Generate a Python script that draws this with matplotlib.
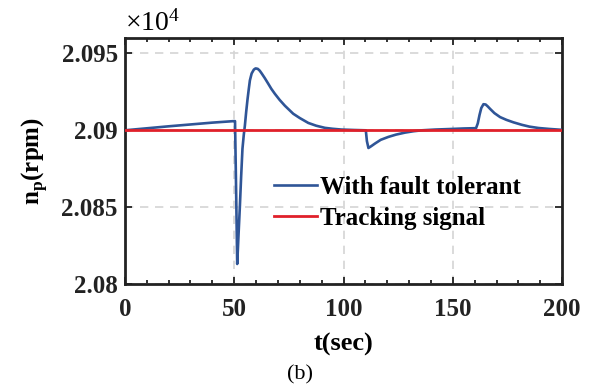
import matplotlib
matplotlib.use('Agg')
import matplotlib.pyplot as plt
from matplotlib.ticker import FuncFormatter, MultipleLocator

plt.rcParams['font.family'] = 'Liberation Serif'
plt.rcParams['mathtext.fontset'] = 'custom'
plt.rcParams['mathtext.rm'] = 'Liberation Serif'
plt.rcParams['mathtext.bf'] = 'Liberation Serif:bold'

# vrijeme [s] i brzina propelera [rpm] - sa tolerancijom kvara
t = [0, 10, 20, 30, 40, 50, 50.4, 50.8, 51.4, 52.0, 52.6, 53.2, 53.8, 54.4,
     54.9, 55.5, 56.1, 56.7, 57.2, 58.0, 59.0, 59.8, 60.8, 61.7, 62.6, 64.0,
     65.6, 67.0, 68.6, 70.8, 73.2, 77.0, 80.0, 83.9, 87.5, 91.5, 95.0, 99.0,
     105, 110.2, 110.7, 111.4, 112.5, 114.4, 117.0, 120.5, 124.0, 128.1,
     132.0, 135.8, 142, 148, 155, 160.6, 161.4, 162.2, 163.0, 164.0, 165.0,
     166.0, 167.0, 169.0, 171.6, 174.5, 177.7, 181.5, 185.0, 189.2, 194.0,
     198.0, 200]
n_ft = [20900, 20901.3, 20902.6, 20903.8, 20905.0, 20906, 20906, 20870,
        20813, 20832, 20850, 20870, 20888, 20897, 20903, 20912, 20920,
        20927, 20932.5, 20937, 20939.5, 20940.3, 20940, 20938.8, 20937,
        20934, 20930.3, 20927, 20923.8, 20919.8, 20916, 20910.8, 20908,
        20904.8, 20903, 20901.6, 20901, 20900.5, 20900.2, 20900, 20893,
        20888.5, 20889.5, 20891.4, 20893.8, 20895.7, 20897.2, 20898.5,
        20899.4, 20900, 20900.5, 20900.8, 20901.2, 20901.4, 20904.5,
        20910, 20914.5, 20917, 20916.8, 20915.5, 20914, 20911.2, 20908.6,
        20906.8, 20905.2, 20903.6, 20902.4, 20901.5, 20900.9, 20900.5,
        20900.3]

# referentni signal
t_ref = [0, 200]
n_ref = [20900, 20900]

fig = plt.figure(figsize=(6, 3.89), dpi=100)
ax = fig.add_axes([0.208, 0.270, 0.729, 0.632])

ax.plot(t, n_ft, c='#2f5597', lw=1.9, label='With fault tolerant', zorder=3)
ax.plot(t_ref, n_ref, c='#e0202a', lw=2.0, label='Tracking signal', zorder=4)

ax.set_xlim(0, 200)
ax.set_ylim(20800, 20960)
ax.set_xticks([0, 50, 100, 150, 200])
ax.xaxis.set_minor_locator(MultipleLocator(10))
ax.set_yticks([20800, 20850, 20900, 20950])
ax.yaxis.set_major_formatter(FuncFormatter(lambda v, p: '%g' % (v / 1e4)))

ax.grid(True, ls=(0, (5, 4)), c='#d4d4d4', lw=1.2)
ax.tick_params(which='both', direction='in', top=True, right=True,
               width=1.3, labelsize=18, pad=5, colors='#222222')
ax.tick_params(axis='x', which='major', pad=10)
ax.tick_params(which='major', length=5)
ax.tick_params(which='minor', length=3)
for lab in ax.get_xticklabels() + ax.get_yticklabels():
    lab.set_fontweight('bold')
for s in ax.spines.values():
    s.set_linewidth(2.0)
    s.set_color('#222222')

ax.set_xlabel('t(sec)', fontsize=19, fontweight='bold', labelpad=9)
ax.set_ylabel(r'n$_{\mathbf{p}}$(rpm)', fontsize=18, fontweight='bold', labelpad=8)
ax.text(0.0, 1.005, r'$\times\mathregular{10^{4}}$', transform=ax.transAxes,
        fontsize=20, va='bottom', ha='left')

leg = ax.legend(loc='center left', bbox_to_anchor=(0.342, 0.33), frameon=False,
                prop={'weight': 'bold', 'size': 18}, handlelength=1.72,
                handletextpad=0.1, borderpad=0, labelspacing=0.3,
                borderaxespad=0)

fig.text(0.5, 0.036, '(b)', fontsize=16, ha='center', va='center')

plt.savefig('out.png', dpi=100)
